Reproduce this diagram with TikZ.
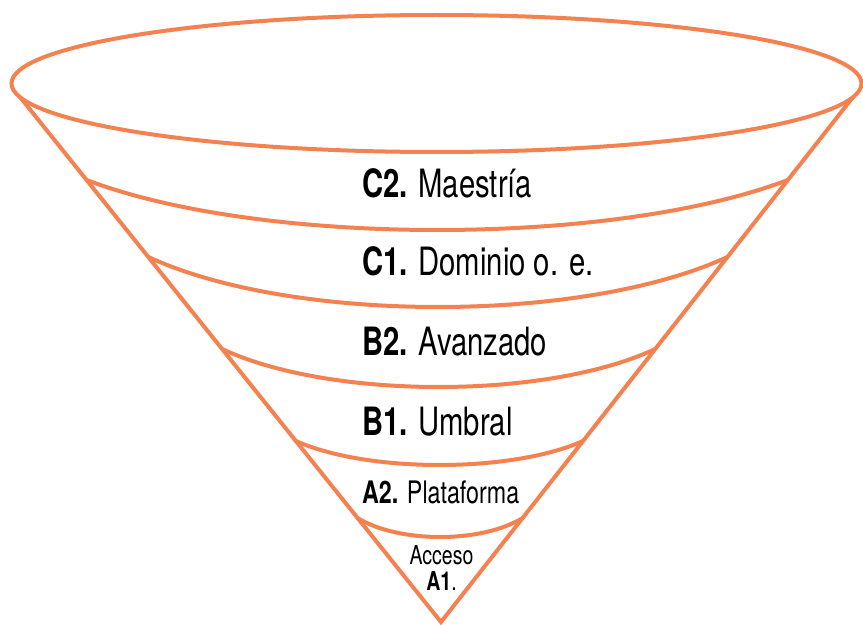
\documentclass[tikz,border=0pt]{standalone}
\usepackage{fontspec}
\setmainfont{TeX Gyre Heros}[FakeStretch=0.75]
\usetikzlibrary{calc}
\definecolor{funnelorange}{RGB}{243,130,80}
\begin{document}
\begin{tikzpicture}[x=1pt,y=-1pt,
    rim/.style={line width=4pt,draw=funnelorange},
    level/.style={anchor=base west,inner sep=0pt,font=\fontsize{39}{40}\selectfont},
    smalllevel/.style={anchor=base,inner sep=0pt,font=\fontsize{26}{27}\selectfont}]
                \useasboundingbox (0,0) rectangle (863,626);
                \coordinate (E) at (436.5,83.5);
                \coordinate (TL) at (20,97);
                \coordinate (TR) at (853,97);
                \coordinate (Apex) at (441,622);
                \draw[rim] (E) ellipse [x radius=425,y radius=68.5];
                \draw[rim] (TL) -- (Apex) -- (TR);
                \foreach \lvl/\yy/\dd in {1/180/50,2/257/50,3/349/38,4/441/24,5/518/19}{
                    \pgfmathsetmacro{\tcut}{(\yy-97)/525}
                    \coordinate (L\lvl) at ($(TL)!\tcut!(Apex)$);
                    \coordinate (R\lvl) at ($(TR)!\tcut!(Apex)$);
                    \draw[rim] (L\lvl) .. controls ($(L\lvl)!0.25!(R\lvl)+(0,\dd*4/3)$) and ($(L\lvl)!0.75!(R\lvl)+(0,\dd*4/3)$) .. (R\lvl);
                }
                \node[level] (C2) at (362,197) {\textbf{C2.} Maestría};
                \node[level] (C1) at (362,275) {\textbf{C1.} Dominio o. e.};
                \node[level] (B2) at (362,355) {\textbf{B2.} Avanzado};
                \node[level] (B1) at (362,435) {\textbf{B1.} Umbral};
                \node[level,font=\fontsize{31}{32}\selectfont] (A2) at (362,503) {\textbf{A2.} Plataforma};
                \node[smalllevel] (acc) at (441.5,564) {Acceso};
                \node[smalllevel] (A1) at (441.5,590) {\textbf{A1}.};
            \end{tikzpicture}
\end{document}
